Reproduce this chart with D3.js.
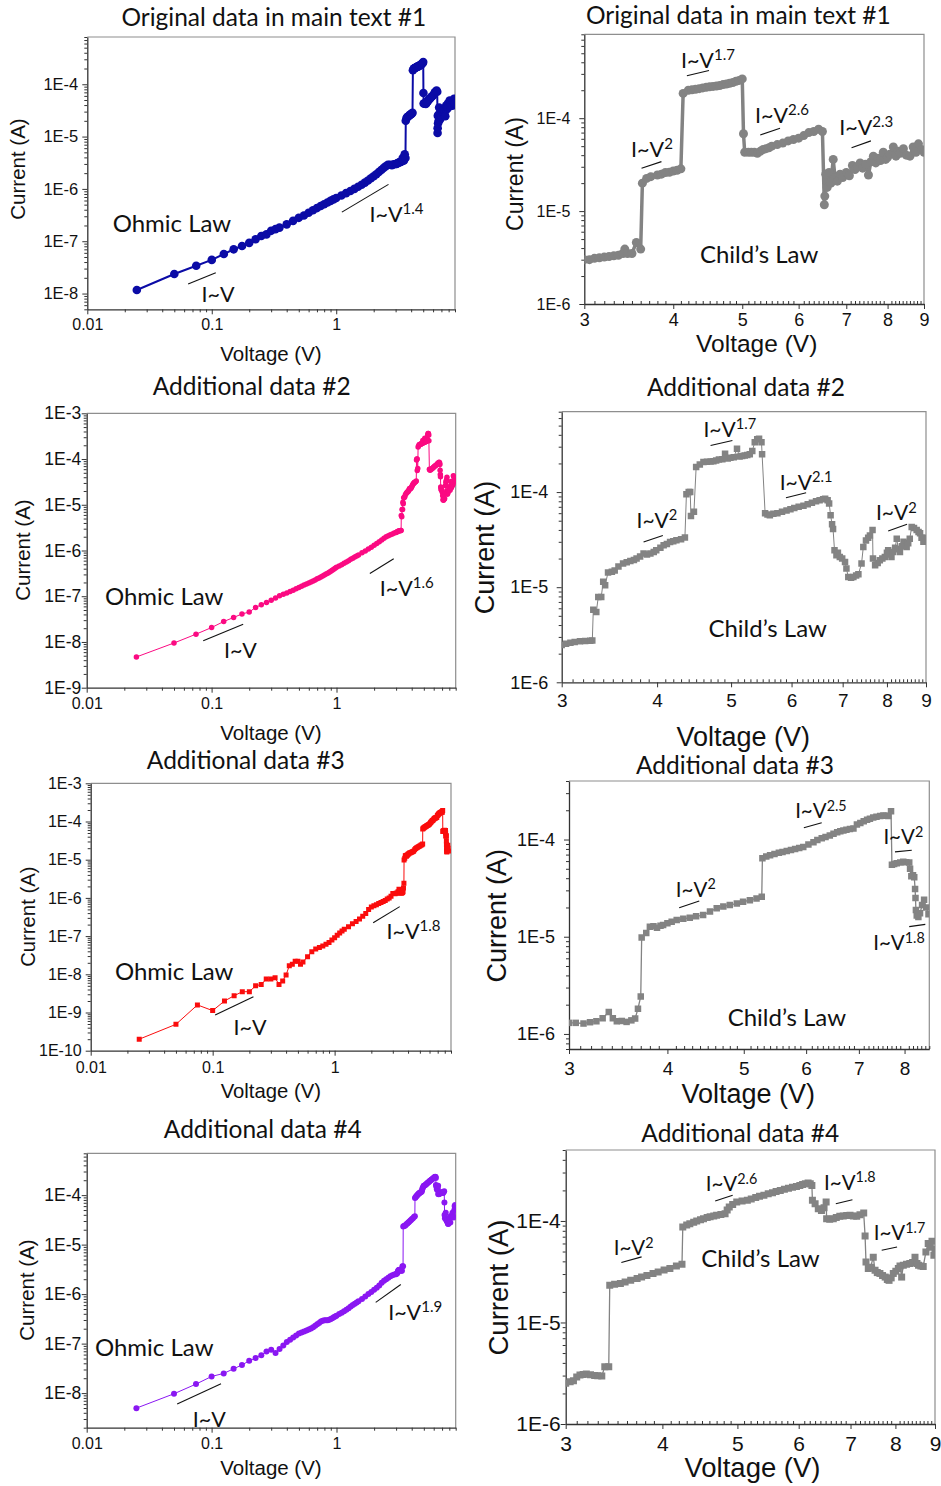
<!DOCTYPE html>
<html>
<head>
<meta charset="utf-8">
<script src="https://cdn.jsdelivr.net/npm/d3@7"></script>
<style>
  body { margin: 0; background: #fff; }
  svg { display: block; }
</style>
</head>
<body>
<svg id="fig" width="941" height="1486"></svg>
<script>
// ---------------------------------------------------------------
// I–V sweeps, [voltage (V), current (A)] for each device
// ---------------------------------------------------------------
const sample1 = [
  [0.025,1.17e-8],[0.05,2.36e-8],[0.075,3.4e-8],[0.1,4.4e-8],[0.125,5.7e-8],[0.15,7.0e-8],[0.175,8.1e-8],[0.2,9.3e-8],
  [0.225,1.09e-7],[0.25,1.26e-7],[0.275,1.35e-7],[0.3,1.58e-7],[0.325,1.7e-7],[0.35,1.82e-7],[0.4,2.1e-7],[0.45,2.45e-7],
  [0.5,2.8e-7],[0.55,3.1e-7],[0.6,3.5e-7],[0.65,3.9e-7],[0.7,4.3e-7],[0.75,4.7e-7],[0.8,5.1e-7],[0.85,5.5e-7],[0.9,5.9e-7],
  [0.95,6.3e-7],[1.0,6.7e-7],[1.1,7.5e-7],[1.2,8.3e-7],[1.3,9.1e-7],[1.4,1.0e-6],[1.5,1.1e-6],[1.6,1.2e-6],[1.7,1.32e-6],
  [1.8,1.45e-6],[1.9,1.6e-6],[2.0,1.75e-6],[2.1,1.9e-6],[2.2,2.1e-6],[2.3,2.3e-6],[2.4,2.5e-6],[2.5,2.7e-6],[2.6,2.9e-6],
  [2.7,2.9e-6],[2.8,2.85e-6],[2.9,2.95e-6],
  [3.0,3.0e-6],[3.05,3.0e-6],[3.1,3.1e-6],[3.15,3.15e-6],[3.2,3.2e-6],[3.25,3.25e-6],[3.3,3.3e-6],[3.35,3.35e-6],[3.4,3.5e-6],
  [3.42,3.9e-6],[3.45,3.5e-6],[3.5,3.5e-6],[3.55,4.6e-6],[3.6,3.9e-6],[3.62,2.0e-5],[3.67,2.25e-5],[3.72,2.35e-5],[3.8,2.45e-5],
  [3.85,2.5e-5],[3.9,2.6e-5],[3.95,2.62e-5],[4.0,2.7e-5],[4.05,2.75e-5],[4.1,2.85e-5],[4.13,1.85e-4],[4.2,2.0e-4],[4.25,2.02e-4],
  [4.3,2.05e-4],[4.35,2.08e-4],[4.4,2.12e-4],[4.45,2.15e-4],[4.5,2.18e-4],[4.55,2.2e-4],[4.6,2.22e-4],[4.65,2.25e-4],[4.7,2.3e-4],
  [4.75,2.33e-4],[4.8,2.38e-4],[4.85,2.42e-4],[4.9,2.5e-4],[4.95,2.55e-4],[5.0,2.65e-4],[5.02,6.8e-5],[5.04,4.3e-5],[5.1,4.3e-5],
  [5.15,4.3e-5],[5.2,4.3e-5],[5.25,4.2e-5],[5.3,4.4e-5],[5.35,4.6e-5],[5.4,4.7e-5],[5.45,4.8e-5],[5.5,5.0e-5],[5.6,5.2e-5],
  [5.7,5.4e-5],[5.8,5.7e-5],[5.9,5.9e-5],[6.0,6.1e-5],[6.1,6.5e-5],[6.2,7.0e-5],[6.3,7.2e-5],[6.4,7.6e-5],[6.48,7.2e-5],
  [6.52,1.17e-5],[6.53,1.45e-5],[6.55,2.5e-5],[6.58,1.8e-5],[6.62,2.6e-5],[6.66,2.0e-5],[6.71,3.6e-5],[6.75,2.3e-5],[6.8,2.1e-5],
  [6.86,2.5e-5],[6.92,2.3e-5],[7.0,2.6e-5],[7.07,2.4e-5],[7.14,3.1e-5],[7.2,2.8e-5],[7.26,3.0e-5],[7.32,3.3e-5],[7.38,2.9e-5],
  [7.45,3.2e-5],[7.52,2.45e-5],[7.58,3.4e-5],[7.64,3.9e-5],[7.7,3.3e-5],[7.76,3.7e-5],[7.82,3.5e-5],[7.89,4.3e-5],[7.95,3.6e-5],
  [8.0,3.8e-5],[8.06,4.1e-5],[8.15,4.9e-5],[8.22,3.9e-5],[8.28,4.4e-5],[8.33,4.2e-5],[8.42,4.7e-5],[8.5,4.0e-5],[8.6,3.9e-5],
  [8.69,4.9e-5],[8.77,4.3e-5],[8.84,5.3e-5],[8.93,4.6e-5],[9.0,4.3e-5]
];

const sample2 = [
  [0.025,4.7e-9],[0.05,9.5e-9],[0.075,1.48e-8],[0.1,2.07e-8],[0.125,2.8e-8],[0.15,3.43e-8],[0.175,4.1e-8],[0.2,4.5e-8],
  [0.225,5.7e-8],[0.25,6.5e-8],[0.275,7.3e-8],[0.3,8.2e-8],[0.325,9.2e-8],[0.35,1.02e-7],[0.375,1.1e-7],[0.4,1.18e-7],
  [0.425,1.27e-7],[0.45,1.35e-7],[0.475,1.45e-7],[0.5,1.55e-7],[0.525,1.65e-7],[0.55,1.75e-7],[0.575,1.85e-7],[0.6,1.95e-7],
  [0.625,2.05e-7],[0.65,2.15e-7],[0.675,2.27e-7],[0.7,2.4e-7],[0.725,2.52e-7],[0.75,2.65e-7],[0.775,2.77e-7],[0.8,2.9e-7],
  [0.825,3.05e-7],[0.85,3.2e-7],[0.875,3.35e-7],[0.9,3.5e-7],[0.925,3.7e-7],[0.95,3.9e-7],[0.975,4.1e-7],[1.0,4.3e-7],
  [1.05,4.6e-7],[1.1,4.9e-7],[1.15,5.25e-7],[1.2,5.6e-7],[1.25,6.0e-7],[1.3,6.4e-7],[1.35,6.8e-7],[1.4,7.2e-7],[1.45,7.6e-7],
  [1.5,8.0e-7],[1.6,8.9e-7],[1.7,9.8e-7],
  [1.8,1.08e-6],[1.9,1.18e-6],[2.0,1.3e-6],[2.1,1.42e-6],[2.2,1.55e-6],[2.3,1.7e-6],[2.4,1.85e-6],[2.5,2.0e-6],[2.6,2.1e-6],
  [2.7,2.2e-6],[2.8,2.3e-6],[2.9,2.4e-6],
  [3.0,2.46e-6],[3.04,2.55e-6],[3.08,2.6e-6],[3.12,2.65e-6],[3.17,2.7e-6],[3.22,2.72e-6],[3.27,2.73e-6],[3.29,2.75e-6],
  [3.3,5.8e-6],[3.33,5.5e-6],[3.35,7.9e-6],[3.38,7.9e-6],[3.4,1.14e-5],[3.42,1.05e-5],[3.45,1.43e-5],[3.49,1.45e-5],[3.52,1.5e-5],
  [3.56,1.65e-5],[3.61,1.77e-5],[3.65,1.83e-5],[3.69,1.89e-5],[3.73,1.93e-5],[3.76,2.0e-5],[3.8,2.1e-5],[3.84,2.26e-5],
  [3.88,2.2e-5],[3.92,2.26e-5],[3.96,2.35e-5],[3.99,2.44e-5],[4.04,2.6e-5],[4.08,2.76e-5],[4.12,2.85e-5],[4.16,2.99e-5],
  [4.2,3.05e-5],[4.24,3.11e-5],[4.3,3.2e-5],[4.35,3.32e-5],[4.37,9.5e-5],[4.4,1.0e-4],[4.42,1.0e-4],[4.43,5.6e-5],[4.47,6.2e-5],
  [4.5,1.83e-4],[4.55,1.95e-4],[4.6,2.07e-4],[4.65,2.08e-4],[4.7,2.1e-4],[4.74,2.11e-4],[4.78,2.15e-4],[4.82,2.2e-4],
  [4.87,2.22e-4],[4.91,2.53e-4],[4.95,2.25e-4],[4.99,2.29e-4],[5.04,2.32e-4],[5.09,2.85e-4],[5.13,2.36e-4],[5.17,2.4e-4],
  [5.21,2.42e-4],[5.25,2.45e-4],[5.29,2.5e-4],[5.33,2.7e-4],[5.37,3.35e-4],[5.41,3.6e-4],[5.44,3.63e-4],[5.48,3.35e-4],
  [5.49,2.5e-4],[5.54,6.0e-5],[5.58,5.8e-5],[5.62,5.7e-5],[5.68,5.9e-5],[5.75,6.0e-5],[5.83,6.2e-5],[5.91,6.4e-5],[5.98,6.6e-5],
  [6.05,6.8e-5],[6.13,7.0e-5],[6.22,7.2e-5],[6.3,7.45e-5],[6.38,7.7e-5],[6.46,8.0e-5],[6.53,8.2e-5],[6.6,8.4e-5],[6.64,8.5e-5],
  [6.69,8.2e-5],[6.72,7.6e-5],[6.75,5.7e-5],[6.78,4.6e-5],[6.8,4.1e-5],[6.83,2.45e-5],[6.87,2.17e-5],[6.9,2.3e-5],[6.94,2.08e-5],
  [6.99,2.0e-5],[7.05,1.84e-5],[7.08,1.57e-5],[7.12,1.28e-5],[7.18,1.26e-5],[7.23,1.28e-5],[7.29,1.33e-5],[7.34,1.37e-5],
  [7.41,1.77e-5],[7.45,2.65e-5],[7.51,3.1e-5],[7.56,3.3e-5],[7.6,3.5e-5],[7.66,4.0e-5],[7.67,2.0e-5],[7.72,1.7e-5],[7.78,1.8e-5],
  [7.83,1.92e-5],[7.89,2.0e-5],[7.95,2.08e-5],[8.0,2.3e-5],[8.03,2.45e-5],[8.07,2.2e-5],[8.11,2.08e-5],[8.15,2.35e-5],[8.2,2.6e-5],
  [8.24,3.24e-5],[8.28,2.5e-5],[8.32,2.35e-5],[8.37,2.7e-5],[8.41,3.0e-5],[8.45,2.8e-5],[8.49,2.65e-5],[8.53,2.9e-5],[8.57,3.24e-5],
  [8.62,4.3e-5],[8.68,4.2e-5],[8.75,4.0e-5],[8.8,3.8e-5],[8.84,3.7e-5],[8.88,3.3e-5],[8.93,3.0e-5],[9.0,3.3e-5]
];

const sample3 = [
  [0.025,2.0e-10],[0.05,4.9e-10],[0.075,1.58e-9],[0.1,1.12e-9],[0.125,2.0e-9],[0.15,2.75e-9],[0.175,3.5e-9],[0.2,3.5e-9],
  [0.225,5.0e-9],[0.25,5.4e-9],[0.275,7.5e-9],[0.3,7.5e-9],[0.325,8.1e-9],[0.35,5.4e-9],[0.375,6.7e-9],[0.4,9.6e-9],
  [0.425,1.68e-8],[0.45,1.82e-8],[0.475,2.2e-8],[0.5,2.2e-8],[0.525,1.82e-8],[0.55,2.1e-8],[0.6,2.9e-8],[0.65,3.9e-8],
  [0.7,4.6e-8],[0.75,5.0e-8],[0.8,5.5e-8],[0.85,6.1e-8],[0.9,6.8e-8],[0.95,7.9e-8],[1.0,9.0e-8],[1.05,1.05e-7],[1.1,1.2e-7],
  [1.15,1.35e-7],[1.2,1.5e-7],[1.3,1.75e-7],[1.4,2.1e-7],[1.5,2.4e-7],[1.6,2.8e-7],[1.7,3.3e-7],[1.8,3.9e-7],[1.9,5.0e-7],
  [2.0,5.8e-7],[2.1,6.2e-7],[2.2,6.6e-7],[2.3,7.1e-7],[2.4,7.6e-7],[2.5,8.0e-7],[2.6,8.6e-7],[2.7,9.3e-7],[2.8,1.0e-6],[2.9,1.1e-6],
  [3.0,1.3e-6],[3.06,1.3e-6],[3.13,1.28e-6],[3.19,1.32e-6],[3.25,1.35e-6],[3.31,1.45e-6],[3.37,1.68e-6],[3.41,1.45e-6],
  [3.45,1.35e-6],[3.5,1.36e-6],[3.55,1.33e-6],[3.6,1.38e-6],[3.64,1.44e-6],[3.67,1.82e-6],[3.7,2.43e-6],[3.71,9.8e-6],
  [3.76,1.09e-5],[3.8,1.27e-5],[3.84,1.28e-5],[3.88,1.24e-5],[3.92,1.3e-5],[3.95,1.32e-5],[4.0,1.38e-5],[4.05,1.43e-5],
  [4.11,1.49e-5],[4.19,1.53e-5],[4.27,1.57e-5],[4.35,1.62e-5],[4.44,1.67e-5],[4.53,1.82e-5],[4.62,1.96e-5],[4.71,2.05e-5],
  [4.8,2.12e-5],[4.9,2.2e-5],[4.99,2.29e-5],[5.09,2.38e-5],[5.19,2.48e-5],[5.27,2.58e-5],[5.28,6.4e-5],[5.34,6.7e-5],[5.4,6.9e-5],
  [5.47,7.1e-5],[5.54,7.3e-5],[5.6,7.45e-5],[5.67,7.6e-5],[5.74,7.8e-5],[5.81,8.0e-5],[5.88,8.2e-5],[5.95,8.4e-5],[6.04,8.9e-5],
  [6.13,9.4e-5],[6.2,9.9e-5],[6.28,1.03e-4],[6.35,1.06e-4],[6.43,1.1e-4],[6.5,1.15e-4],[6.57,1.19e-4],[6.63,1.22e-4],
  [6.69,1.24e-4],[6.75,1.26e-4],[6.82,1.28e-4],[6.89,1.3e-4],[6.96,1.43e-4],[7.03,1.48e-4],[7.1,1.54e-4],[7.17,1.6e-4],
  [7.23,1.64e-4],[7.3,1.68e-4],[7.37,1.72e-4],[7.45,1.75e-4],[7.52,1.77e-4],[7.58,1.76e-4],[7.63,1.75e-4],[7.69,1.95e-4],
  [7.71,5.5e-5],[7.76,5.6e-5],[7.82,5.7e-5],[7.9,5.8e-5],[7.97,5.9e-5],[8.04,5.85e-5],[8.11,5.8e-5],[8.13,5.0e-5],[8.16,4.2e-5],
  [8.2,4.3e-5],[8.23,4.1e-5],[8.25,3.1e-5],[8.26,2.5e-5],[8.27,1.88e-5],[8.29,1.65e-5],[8.33,1.6e-5],[8.37,1.74e-5],
  [8.42,2.12e-5],[8.47,2.4e-5],[8.52,2.0e-5],[8.58,1.7e-5]
];

const sample4 = [
  [0.025,4.97e-9],[0.05,9.7e-9],[0.075,1.52e-8],[0.1,2.17e-8],[0.125,2.5e-8],[0.15,3.1e-8],[0.175,3.7e-8],[0.2,4.5e-8],
  [0.225,5.1e-8],[0.25,5.8e-8],[0.275,6.95e-8],[0.3,7.5e-8],[0.325,6.45e-8],[0.35,7.8e-8],[0.375,9.2e-8],[0.4,1.08e-7],
  [0.425,1.2e-7],[0.45,1.33e-7],[0.475,1.46e-7],[0.5,1.6e-7],[0.525,1.68e-7],[0.55,1.75e-7],[0.575,1.83e-7],[0.6,1.92e-7],
  [0.625,2.03e-7],[0.65,2.15e-7],[0.675,2.3e-7],[0.7,2.45e-7],[0.725,2.62e-7],[0.75,2.8e-7],[0.775,2.9e-7],[0.8,2.95e-7],
  [0.825,2.95e-7],[0.85,2.95e-7],[0.875,3.05e-7],[0.9,3.15e-7],[0.925,3.27e-7],[0.95,3.4e-7],[0.975,3.53e-7],[1.0,3.67e-7],
  [1.05,3.95e-7],[1.1,4.2e-7],[1.15,4.5e-7],[1.2,4.85e-7],[1.25,5.2e-7],[1.3,5.6e-7],[1.35,6.0e-7],[1.4,6.4e-7],[1.45,6.8e-7],
  [1.5,7.2e-7],
  [1.6,8.0e-7],[1.7,9.0e-7],[1.8,1.0e-6],[1.9,1.1e-6],[2.0,1.22e-6],[2.1,1.34e-6],[2.2,1.5e-6],[2.3,1.7e-6],[2.4,1.87e-6],
  [2.5,2.0e-6],[2.6,2.15e-6],[2.7,2.3e-6],[2.8,2.4e-6],[2.9,2.5e-6],
  [3.0,2.52e-6],[3.04,2.6e-6],[3.07,2.67e-6],[3.1,2.9e-6],[3.13,3.04e-6],[3.16,3.08e-6],[3.19,3.1e-6],[3.23,3.05e-6],
  [3.27,3.0e-6],[3.3,2.98e-6],[3.34,2.97e-6],[3.37,3.66e-6],[3.41,3.66e-6],[3.42,2.33e-5],[3.47,2.38e-5],[3.53,2.42e-5],
  [3.58,2.5e-5],[3.64,2.6e-5],[3.71,2.71e-5],[3.76,2.8e-5],[3.82,2.9e-5],[3.89,3.04e-5],[3.95,3.15e-5],[4.02,3.28e-5],
  [4.09,3.4e-5],[4.17,3.6e-5],[4.24,3.75e-5],[4.25,8.7e-5],[4.3,9.1e-5],[4.34,9.4e-5],[4.39,9.7e-5],[4.43,1.0e-4],[4.48,1.03e-4],
  [4.52,1.05e-4],[4.57,1.08e-4],[4.61,1.1e-4],[4.66,1.12e-4],[4.7,1.14e-4],[4.76,1.16e-4],[4.82,1.18e-4],[4.85,1.28e-4],
  [4.88,1.37e-4],[4.93,1.45e-4],[4.99,1.54e-4],[5.07,1.57e-4],[5.15,1.6e-4],[5.21,1.65e-4],[5.28,1.7e-4],[5.34,1.75e-4],
  [5.41,1.79e-4],[5.48,1.85e-4],[5.55,1.9e-4],[5.61,1.95e-4],[5.68,2.0e-4],[5.75,2.05e-4],[5.82,2.1e-4],[5.89,2.15e-4],
  [5.96,2.19e-4],[6.02,2.24e-4],[6.07,2.28e-4],[6.12,2.32e-4],[6.17,2.36e-4],[6.21,2.33e-4],[6.24,2.23e-4],[6.25,1.6e-4],
  [6.3,1.48e-4],[6.36,1.32e-4],[6.42,1.27e-4],[6.47,1.35e-4],[6.51,1.54e-4],[6.52,1.05e-4],[6.58,1.04e-4],[6.65,1.05e-4],
  [6.71,1.08e-4],[6.78,1.11e-4],[6.85,1.12e-4],[6.92,1.13e-4],[6.99,1.14e-4],[7.06,1.12e-4],[7.13,1.11e-4],[7.2,1.15e-4],
  [7.28,1.2e-4],[7.31,7.1e-5],[7.33,3.95e-5],[7.38,3.4e-5],[7.43,3.5e-5],[7.49,4.4e-5],[7.53,3.27e-5],[7.58,3.1e-5],
  [7.64,3.04e-5],[7.7,2.9e-5],[7.76,2.8e-5],[7.81,2.65e-5],[7.85,2.6e-5],[7.9,2.75e-5],[7.95,3.04e-5],[8.01,3.2e-5],
  [8.07,3.4e-5],[8.11,3.6e-5],[8.15,2.8e-5],[8.19,3.67e-5],[8.27,3.75e-5],[8.35,3.8e-5],[8.42,3.9e-5],[8.48,4.4e-5],
  [8.53,3.8e-5],[8.57,3.67e-5],[8.63,3.6e-5],[8.69,3.55e-5],[8.76,4.95e-5],[8.82,6.0e-5],[8.87,5.5e-5],[8.92,6.3e-5],
  [8.97,4.6e-5],[9.0,5.3e-5]
];

// Axis tick values
const fullRangeVoltTicks = [0.01, 0.1, 1];
const highFieldVoltTicks = [3, 4, 5, 6, 7, 8, 9];
const currentTicksA = [1e-8, 1e-7, 1e-6, 1e-5, 1e-4];
const currentTicksB = [1e-9, 1e-8, 1e-7, 1e-6, 1e-5, 1e-4, 1e-3];
const currentTicksC = [1e-10, 1e-9, 1e-8, 1e-7, 1e-6, 1e-5, 1e-4, 1e-3];
const currentTicksHigh = [1e-6, 1e-5, 1e-4];

// Conduction-regime labels, anchored at [voltage, current]
const notes1 = [
  { text: "Ohmic Law", kind: "law", v: 0.016, i: 1.52e-7 },
  { text: "I~V", kind: "fit", v: 0.0826, i: 6.97e-9 },
  { text: "I~V", sup: "1.4", kind: "fit", v: 1.85, i: 2.36e-7 }
];
const notes2 = [
  { text: "I~V", sup: "2", kind: "fit", v: 3.49, i: 3.85e-5 },
  { text: "I~V", sup: "1.7", kind: "fit", v: 4.10, i: 3.46e-4 },
  { text: "I~V", sup: "2.6", kind: "fit", v: 5.21, i: 8.97e-5 },
  { text: "I~V", sup: "2.3", kind: "fit", v: 6.84, i: 6.6e-5 },
  { text: "Child\u2019s Law", kind: "law", v: 4.36, i: 2.74e-6 }
];
const notes3 = [
  { text: "Ohmic Law", kind: "law", v: 0.014, i: 6.4e-8 },
  { text: "I~V", kind: "fit", v: 0.1254, i: 4.36e-9 },
  { text: "I~V", sup: "1.6", kind: "fit", v: 2.22, i: 1.0e-7 }
];
const notes4 = [
  { text: "I~V", sup: "2", kind: "fit", v: 3.76, i: 4.2e-5 },
  { text: "I~V", sup: "1.7", kind: "fit", v: 4.60, i: 3.84e-4 },
  { text: "I~V", sup: "2.1", kind: "fit", v: 5.79, i: 1.06e-4 },
  { text: "I~V", sup: "2", kind: "fit", v: 7.74, i: 5.05e-5 },
  { text: "Child\u2019s Law", kind: "law", v: 4.67, i: 3.0e-6 }
];
const notes5 = [
  { text: "Ohmic Law", kind: "law", v: 0.0158, i: 7.1e-9 },
  { text: "I~V", kind: "fit", v: 0.148, i: 2.58e-10 },
  { text: "I~V", sup: "1.8", kind: "fit", v: 2.66, i: 8.4e-8 }
];
const notes6 = [
  { text: "I~V", sup: "2", kind: "fit", v: 4.10, i: 2.58e-5 },
  { text: "I~V", sup: "2.5", kind: "fit", v: 5.81, i: 1.66e-4 },
  { text: "I~V", sup: "2", kind: "fit", v: 7.52, i: 8.9e-5 },
  { text: "I~V", sup: "1.8", kind: "fit", v: 7.30, i: 7.3e-6 },
  { text: "Child\u2019s Law", kind: "law", v: 4.77, i: 1.2e-6 }
];
const notes7 = [
  { text: "Ohmic Law", kind: "law", v: 0.01165, i: 5.5e-8 },
  { text: "I~V", kind: "fit", v: 0.0705, i: 2.1e-9 },
  { text: "I~V", sup: "1.9", kind: "fit", v: 2.59, i: 3.05e-7 }
];
const notes8 = [
  { text: "I~V", sup: "2", kind: "fit", v: 3.46, i: 4.6e-5 },
  { text: "I~V", sup: "2.6", kind: "fit", v: 4.55, i: 1.96e-4 },
  { text: "I~V", sup: "1.8", kind: "fit", v: 6.47, i: 2.04e-4 },
  { text: "I~V", sup: "1.7", kind: "fit", v: 7.50, i: 6.46e-5 },
  { text: "Child\u2019s Law", kind: "law", v: 4.49, i: 3.53e-5 }
];

// Power-law guide segments: [v1, i1, v2, i2]
const slopes1 = [[0.0646, 1.52e-8, 0.1077, 2.5e-8], [1.11, 3.6e-7, 2.63, 1.22e-6]];
const slopes2 = [[3.61, 2.89e-5, 3.85, 3.41e-5], [4.18, 2.86e-4, 4.49, 3.26e-4], [5.30, 6.6e-5, 5.65, 7.8e-5], [7.12, 4.8e-5, 7.58, 5.7e-5]];
const slopes3 = [[0.0857, 1.06e-8, 0.179, 2.45e-8], [1.85, 3.15e-7, 2.87, 6.6e-7]];
const slopes4 = [[3.84, 2.99e-5, 4.07, 3.5e-5], [4.70, 3.09e-4, 5.02, 3.49e-4], [5.90, 8.7e-5, 6.27, 9.86e-5], [8.03, 3.9e-5, 8.50, 4.58e-5]];
const slopes5 = [[0.1048, 8.6e-10, 0.216, 2.6e-9], [2.07, 2.24e-7, 3.42, 5.9e-7]];
const slopes6 = [[4.14, 1.99e-5, 4.39, 2.33e-5], [5.96, 1.32e-4, 6.28, 1.49e-4], [7.78, 7.46e-5, 8.17, 7.77e-5], [8.11, 1.27e-5, 8.50, 1.34e-5]];
const slopes7 = [[0.053, 6.0e-9, 0.119, 1.54e-8], [2.06, 6.8e-7, 3.27, 1.56e-6]];
const slopes8 = [[3.54, 3.9e-5, 3.76, 4.43e-5], [4.68, 1.57e-4, 4.93, 1.79e-4], [6.70, 1.48e-4, 7.04, 1.62e-4], [7.68, 5.15e-5, 8.04, 5.55e-5]];

// ---------------------------------------------------------------
// Panel layout
// ---------------------------------------------------------------
const SANS = "'Liberation Sans', Arial, sans-serif";
const HUMANIST = "Lato, 'Open Sans', sans-serif";
const GREY = "#838383";
const TITLE_SIZE = 24.5;

const panels = [
  { title: "Original data in main text #1", sample: sample1, side: "left",
    frame: [87.3, 37, 455, 309.3], xDomain: [0.01, 9], yDomain: [5e-9, 8e-4], yTicks: currentTicksA,
    color: "#0b0ba6", marker: "circle", markerSize: 8.6, lineWidth: 2,
    titlePos: [273.8, 26], xLabelPos: [271, 361], yLabelPos: [25, 169],
    xLabelFont: 20.5, yLabelFont: 20.5, xTickFont: 16, yTickFont: 16.5, xTickPad: 4.3, yTickPad: 4,
    lawFont: 24, fitFont: 21.5, notes: notes1, slopes: slopes1 },
  { title: "Original data in main text #1", sample: sample1, side: "right",
    frame: [584.3, 34.3, 924, 304], xDomain: [3, 9], yDomain: [1e-6, 8e-4], yTicks: currentTicksHigh,
    color: GREY, marker: "circle", markerSize: 9, lineWidth: 3.5,
    titlePos: [738.3, 24], xLabelPos: [756.7, 352], yLabelPos: [523, 174],
    xLabelFont: 24.5, yLabelFont: 23, xTickFont: 18, yTickFont: 16, xTickPad: 4.2, yTickPad: 9,
    lawFont: 24, fitFont: 21.5, notes: notes2, slopes: slopes2 },
  { title: "Additional data #2", sample: sample2, side: "left",
    frame: [86.7, 413.3, 455.7, 687.7], xDomain: [0.01, 9], yDomain: [1e-9, 1e-3], yTicks: currentTicksB,
    color: "#fb0a82", marker: "circle", markerSize: 5.5, lineWidth: 1,
    titlePos: [251.7, 395], xLabelPos: [271, 740], yLabelPos: [29.7, 550],
    xLabelFont: 20.5, yLabelFont: 20.5, xTickFont: 16, yTickFont: 17.5, xTickPad: 5.2, yTickPad: 0.5,
    lawFont: 24, fitFont: 21.5, notes: notes3, slopes: slopes3 },
  { title: "Additional data #2", sample: sample2, side: "right",
    frame: [561.7, 411.7, 926, 682.3], xDomain: [3, 9], yDomain: [1e-6, 7e-4], yTicks: currentTicksHigh,
    color: GREY, marker: "square", markerSize: 6.5, lineWidth: 1,
    titlePos: [746, 396], xLabelPos: [743.3, 745.5], yLabelPos: [494.3, 547.5],
    xLabelFont: 27, yLabelFont: 27, xTickFont: 19, yTickFont: 18, xTickPad: 5.9, yTickPad: 8.4,
    lawFont: 24, fitFont: 21, notes: notes4, slopes: slopes4 },
  { title: "Additional data #3", sample: sample3, side: "left",
    frame: [90.7, 783.3, 451, 1050.7], xDomain: [0.01, 9], yDomain: [1e-10, 1e-3], yTicks: currentTicksC,
    color: "#fa0c0c", marker: "square", markerSize: 5, lineWidth: 1,
    titlePos: [245.8, 769], xLabelPos: [270.8, 1098], yLabelPos: [34.5, 916.7],
    xLabelFont: 20.3, yLabelFont: 20.3, xTickFont: 16, yTickFont: 16, xTickPad: 5.6, yTickPad: 4,
    lawFont: 24, fitFont: 21.5, notes: notes5, slopes: slopes5 },
  { title: "Additional data #3", sample: sample3, side: "right",
    frame: [569, 781, 929.3, 1049], xDomain: [3, 8.6], yDomain: [7e-7, 4e-4], yTicks: currentTicksHigh,
    color: GREY, marker: "square", markerSize: 6.5, lineWidth: 1.3,
    titlePos: [735, 774.3], xLabelPos: [748.3, 1102.5], yLabelPos: [506, 915.8],
    xLabelFont: 27, yLabelFont: 27, xTickFont: 19, yTickFont: 18, xTickPad: 7.5, yTickPad: 9,
    lawFont: 24, fitFont: 20.5, notes: notes6, slopes: slopes6 },
  { title: "Additional data #4", sample: sample4, side: "left",
    frame: [86.7, 1153.3, 455.7, 1427.7], xDomain: [0.01, 9], yDomain: [2e-9, 7e-4], yTicks: currentTicksA,
    color: "#8a17f2", marker: "circle", markerSize: 6, lineWidth: 1,
    titlePos: [262.8, 1138.3], xLabelPos: [271, 1475.3], yLabelPos: [34, 1290],
    xLabelFont: 20.5, yLabelFont: 20.5, xTickFont: 16, yTickFont: 17.5, xTickPad: 5.2, yTickPad: 0.5,
    lawFont: 24, fitFont: 21.5, notes: notes7, slopes: slopes7 },
  { title: "Additional data #4", sample: sample4, side: "right",
    frame: [565.7, 1150, 935, 1424], xDomain: [3, 9], yDomain: [1e-6, 5e-4], yTicks: currentTicksHigh,
    color: GREY, marker: "square", markerSize: 7, lineWidth: 1.3,
    titlePos: [740.3, 1142.3], xLabelPos: [752.5, 1477], yLabelPos: [508, 1287.5],
    xLabelFont: 27.5, yLabelFont: 27.5, xTickFont: 21, yTickFont: 21, xTickPad: 6.8, yTickPad: 0,
    lawFont: 24, fitFont: 20.5, notes: notes8, slopes: slopes8 }
];

// ---------------------------------------------------------------
// Helpers
// ---------------------------------------------------------------
const svg = d3.select("#fig");
const defs = svg.append("defs");

// 2..9 multiples of each decade inside [lo, hi]
function decadeMinors(lo, hi) {
  const out = [];
  for (let e = Math.floor(Math.log10(lo)); e <= Math.ceil(Math.log10(hi)); e++) {
    for (let m = 2; m <= 9; m++) {
      const v = +(m * Math.pow(10, e)).toPrecision(6);
      if (v >= lo * 0.999 && v <= hi * 1.001) out.push(v);
    }
  }
  return out;
}
// every 0.1 V between integer volts
function tenthMinors(lo, hi) {
  const out = [];
  for (let k = Math.ceil(lo * 10); k <= Math.floor(hi * 10 + 1e-9); k++) {
    if (k % 10 !== 0) out.push(k / 10);
  }
  return out;
}
const expFormat = d => "1E" + Math.round(Math.log10(d));

function styleAxis(sel, font, size) {
  sel.select(".domain").attr("stroke", "#333").attr("stroke-width", 1.3);
  sel.selectAll(".tick line").attr("stroke", "#333").attr("stroke-width", 1);
  sel.selectAll("text").attr("font-family", font).attr("font-size", size).attr("fill", "#111");
}

// ---------------------------------------------------------------
// Draw one panel
// ---------------------------------------------------------------
function drawPanel(p, idx) {
  const [x0, y0, x1, y1] = p.frame;
  const x = d3.scaleLog().domain(p.xDomain).range([x0, x1]);
  const y = d3.scaleLog().domain(p.yDomain).range([y1, y0]);
  const g = svg.append("g").attr("class", "panel");

  const clipId = "plot-area-" + idx;
  defs.append("clipPath").attr("id", clipId).append("rect")
    .attr("x", x0).attr("y", y0).attr("width", x1 - x0).attr("height", y1 - y0);

  // top and right frame
  g.append("path")
    .attr("d", `M${x0},${y0}H${x1}V${y1}`)
    .attr("fill", "none").attr("stroke", "#8e8e8e").attr("stroke-width", 1.2);

  // minor ticks
  const xMinor = p.side === "left" ? decadeMinors(...p.xDomain) : tenthMinors(...p.xDomain);
  g.append("g").attr("transform", `translate(0,${y1})`)
    .call(d3.axisBottom(x).tickValues(xMinor).tickFormat("").tickSize(p.side === "left" ? 3 : -3).tickSizeOuter(0))
    .call(s => s.select(".domain").remove())
    .call(s => s.selectAll(".tick line").attr("stroke", "#333"));
  g.append("g").attr("transform", `translate(${x0},0)`)
    .call(d3.axisLeft(y).tickValues(decadeMinors(...p.yDomain)).tickFormat("").tickSize(3).tickSizeOuter(0))
    .call(s => s.select(".domain").remove())
    .call(s => s.selectAll(".tick line").attr("stroke", "#333"));

  // major axes
  const xTicks = (p.side === "left" ? fullRangeVoltTicks : highFieldVoltTicks)
    .filter(t => t >= p.xDomain[0] && t <= p.xDomain[1] * 1.0001);
  g.append("g").attr("transform", `translate(0,${y1})`)
    .call(d3.axisBottom(x).tickValues(xTicks).tickFormat(d => String(d)).tickSize(5).tickPadding(p.xTickPad).tickSizeOuter(0))
    .call(s => styleAxis(s, SANS, p.xTickFont));
  g.append("g").attr("transform", `translate(${x0},0)`)
    .call(d3.axisLeft(y).tickValues(p.yTicks).tickFormat(expFormat).tickSize(5).tickPadding(p.yTickPad).tickSizeOuter(0))
    .call(s => styleAxis(s, SANS, p.yTickFont));

  // measured sweep
  const pts = p.sample.filter(d => d[0] >= p.xDomain[0] * 0.999 && d[0] <= p.xDomain[1] * 1.001);
  const plot = g.append("g").attr("clip-path", `url(#${clipId})`);
  plot.append("path").datum(pts)
    .attr("d", d3.line().x(d => x(d[0])).y(d => y(d[1])))
    .attr("fill", "none").attr("stroke", p.color).attr("stroke-width", p.lineWidth)
    .attr("stroke-linejoin", "round");
  const symbol = p.marker === "square"
    ? d3.symbol().type(d3.symbolSquare).size(p.markerSize * p.markerSize)
    : d3.symbol().type(d3.symbolCircle).size(Math.PI * (p.markerSize / 2) ** 2);
  plot.selectAll("path.pt").data(pts).join("path")
    .attr("class", "pt")
    .attr("transform", d => `translate(${x(d[0])},${y(d[1])})`)
    .attr("d", symbol)
    .attr("fill", p.color);

  // power-law guides
  g.selectAll("line.guide").data(p.slopes).join("line")
    .attr("class", "guide")
    .attr("x1", s => x(s[0])).attr("y1", s => y(s[1]))
    .attr("x2", s => x(s[2])).attr("y2", s => y(s[3]))
    .attr("stroke", "#111").attr("stroke-width", 1.1);

  // regime labels
  p.notes.forEach(n => {
    const size = n.kind === "law" ? p.lawFont : p.fitFont;
    const t = g.append("text")
      .attr("x", x(n.v)).attr("y", y(n.i))
      .attr("font-family", HUMANIST).attr("font-size", size).attr("fill", "#111")
      .text(n.text);
    if (n.sup) {
      t.append("tspan").attr("dy", -size * 0.36).attr("font-size", size * 0.7).text(n.sup);
    }
  });

  // titles
  g.append("text").attr("x", p.titlePos[0]).attr("y", p.titlePos[1])
    .attr("text-anchor", "middle").attr("font-family", HUMANIST).attr("font-size", TITLE_SIZE).attr("fill", "#111")
    .text(p.title);
  g.append("text").attr("x", p.xLabelPos[0]).attr("y", p.xLabelPos[1])
    .attr("text-anchor", "middle").attr("font-family", SANS).attr("font-size", p.xLabelFont).attr("fill", "#111")
    .text("Voltage (V)");
  g.append("text")
    .attr("transform", `translate(${p.yLabelPos[0]},${p.yLabelPos[1]}) rotate(-90)`)
    .attr("text-anchor", "middle").attr("font-family", SANS).attr("font-size", p.yLabelFont).attr("fill", "#111")
    .text("Current (A)");
}

panels.forEach(drawPanel);
</script>
</body>
</html>
